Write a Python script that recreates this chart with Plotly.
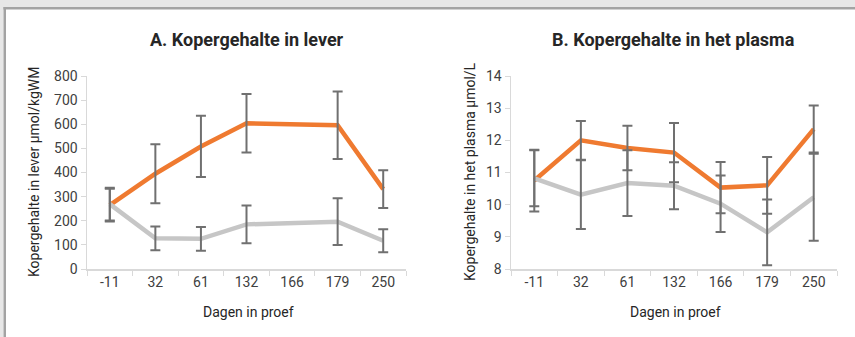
import plotly.graph_objects as go

# ---- data ----
days = ["-11", "32", "61", "132", "166", "179", "250"]

lever_oranje = [265, 395, 508, 604, None, 596, 331]
lever_oranje_err = [68, 122, 127, 121, None, 140, 78]
lever_grijs = [269, 127, 125, 185, None, 196, 117]
lever_grijs_err = [68, 49, 49, 78, None, 97, 48]

plasma_oranje = [10.75, 12.0, 11.76, 11.62, 10.53, 10.60, 12.35]
plasma_oranje_err = [0.96, 0.60, 0.69, 0.92, 0.80, 0.88, 0.73]
plasma_grijs = [10.82, 10.31, 10.67, 10.59, 10.03, 9.14, 10.23]
plasma_grijs_err = [0.87, 1.07, 1.02, 0.73, 0.88, 1.02, 1.35]

titles = ["<b>A. Kopergehalte in lever</b>", "<b>B. Kopergehalte in het plasma</b>"]
ytitles = ["Kopergehalte in lever µmol/kgWM", "Kopergehalte in het plasma µmol/L"]
xtitle = "Dagen in proef"

ORANGE = "#EF7A30"
GREY = "#C6C6C6"
ERR = "#707070"
TXT = "#404040"
FONT = "Roboto"

W, H = 855, 337
L, R, T, B = 87, 18, 76, 68
PW = W - L - R
PH = H - T - B

def px(x):
    return (x - L) / PW

def py(y):
    return (H - B - y) / PH

fig = go.Figure()

def add_panel(xa, ya, o, oe, g, ge):
    xref = "x" if xa == 1 else "x%d" % xa
    yref = "y" if ya == 1 else "y%d" % ya
    fig.add_trace(go.Scatter(x=days, y=o, mode="lines", line=dict(color=ORANGE, width=4.5),
                             connectgaps=True, xaxis=xref, yaxis=yref, showlegend=False))
    fig.add_trace(go.Scatter(x=days, y=g, mode="lines", line=dict(color=GREY, width=4.5),
                             connectgaps=True, xaxis=xref, yaxis=yref, showlegend=False))
    for vals, errs in ((o, oe), (g, ge)):
        fig.add_trace(go.Scatter(x=days, y=vals, mode="markers",
                                 marker=dict(size=1, color="rgba(0,0,0,0)"),
                                 error_y=dict(type="data", array=errs, color=ERR, thickness=2, width=5),
                                 xaxis=xref, yaxis=yref, showlegend=False))

add_panel(1, 1, lever_oranje, lever_oranje_err, lever_grijs, lever_grijs_err)
add_panel(2, 2, plasma_oranje, plasma_oranje_err, plasma_grijs, plasma_grijs_err)

xcommon = dict(type="category", categoryorder="array", categoryarray=days,
               range=[-0.5, 6.5], showline=True, linecolor="#D9D9D9", linewidth=1.5,
               ticks="outside", tickson="boundaries", ticklen=5, tickcolor="#D9D9D9",
               showgrid=False, zeroline=False,
               tickfont=dict(family=FONT, size=14, color=TXT), fixedrange=True)
ycommon = dict(showline=True, linecolor="#D9D9D9", linewidth=1.5, ticks="outside",
               ticklen=5, tickcolor="#D9D9D9", showgrid=False, zeroline=False,
               tickfont=dict(family=FONT, size=14, color=TXT), fixedrange=True)

fig.update_layout(
    width=W, height=H,
    margin=dict(l=L, r=R, t=T, b=B, pad=0),
    paper_bgcolor="white", plot_bgcolor="white",
    hovermode=False,
    xaxis=dict(domain=[0, px(406)], anchor="y", **xcommon),
    yaxis=dict(domain=[0, 1], anchor="x", range=[0, 800], dtick=100, **ycommon),
    xaxis2=dict(domain=[px(511), 1], anchor="y2", **xcommon),
    yaxis2=dict(domain=[0, 1], anchor="x2", range=[8, 14], dtick=1, **ycommon),
)

ann = []
for cx, t in ((247, titles[0]), (673, titles[1])):
    ann.append(dict(x=px(cx), y=py(39), xref="paper", yref="paper", text=t, showarrow=False,
                    xanchor="center", yanchor="middle",
                    font=dict(family=FONT, size=18, color="#262626")))
for cx, t in ((34, ytitles[0]), (470, ytitles[1])):
    ann.append(dict(x=px(cx), y=py(172), xref="paper", yref="paper", text=t, showarrow=False,
                    xanchor="center", yanchor="middle", textangle=-90,
                    font=dict(family=FONT, size=14, color="#262626")))
for cx in (248, 675):
    ann.append(dict(x=px(cx), y=py(312), xref="paper", yref="paper", text=xtitle, showarrow=False,
                    xanchor="center", yanchor="middle",
                    font=dict(family=FONT, size=14, color="#262626")))
fig.update_layout(annotations=ann)

# screenshot frame: grey band on top and left
shapes = [
    dict(type="rect", xref="paper", yref="paper", x0=px(0), x1=px(W), y0=py(0), y1=py(7),
         fillcolor="#E7E7E7", line=dict(width=0), layer="above"),
    dict(type="rect", xref="paper", yref="paper", x0=px(0), x1=px(W), y0=py(7), y1=py(9.5),
         fillcolor="#A3A3A3", line=dict(width=0), layer="above"),
    dict(type="rect", xref="paper", yref="paper", x0=px(0), x1=px(3.5), y0=py(7), y1=py(H),
         fillcolor="#E7E7E7", line=dict(width=0), layer="above"),
    dict(type="rect", xref="paper", yref="paper", x0=px(3.5), x1=px(6), y0=py(7), y1=py(H),
         fillcolor="#A3A3A3", line=dict(width=0), layer="above"),
]
fig.update_layout(shapes=shapes)

fig.write_html("out.html", config={"displayModeBar": False, "staticPlot": True},
               post_script="document.body.style.margin='0';document.body.style.overflow='hidden';")
